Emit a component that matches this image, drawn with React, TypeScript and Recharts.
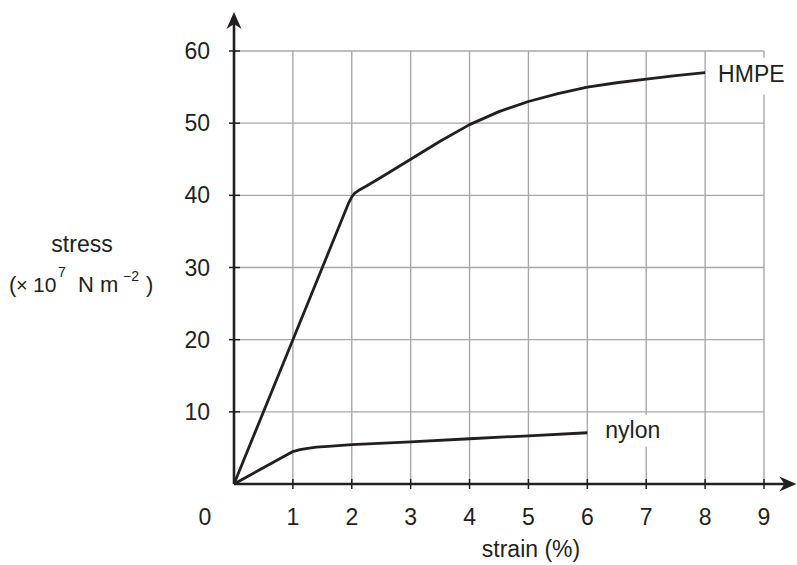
import React from "react";
import { LineChart, Line, XAxis, YAxis, CartesianGrid, ReferenceLine, ReferenceDot } from "recharts";

const xTicks = [0, 1, 2, 3, 4, 5, 6, 7, 8, 9];
const yTicks = [10, 20, 30, 40, 50, 60];

const hmpeStrain = [0, 1, 1.95, 2.0, 2.05, 2.12, 2.25, 2.5, 3, 3.5, 4, 4.5, 5, 5.5, 6, 6.5, 7, 7.5, 8];
const hmpeStress = [0, 20, 39, 39.8, 40.3, 40.7, 41.3, 42.5, 45, 47.5, 49.8, 51.6, 53, 54.1, 55, 55.6, 56.1, 56.6, 57];

const nylonStrain = [0, 1, 1.12, 1.25, 1.4, 1.6, 2, 3, 4, 5, 6];
const nylonStress = [0, 4.5, 4.75, 4.95, 5.1, 5.22, 5.45, 5.85, 6.27, 6.68, 7.1];

const hmpeData = hmpeStrain.map((x, i) => ({ x, y: hmpeStress[i] }));
const nylonData = nylonStrain.map((x, i) => ({ x, y: nylonStress[i] }));

const INK = "#231f20";
const FONT = "'Liberation Sans', Arial, sans-serif";

const XTick = (props: any) => {
  const { x, y, payload } = props;
  const v = payload.value;
  return (
    <g>
      {v !== 0 && <line x1={x} x2={x} y1={y - 5} y2={y + 5} stroke={INK} strokeWidth={1.5} />}
      <text x={v === 0 ? x - 29 : x} y={y + 41} textAnchor="middle" fontFamily={FONT} fontSize={23} fill={INK}>
        {v}
      </text>
    </g>
  );
};

const YTick = (props: any) => {
  const { x, y, payload } = props;
  return (
    <g>
      <line x1={x - 5} x2={x + 6} y1={y} y2={y} stroke={INK} strokeWidth={1.5} />
      <text x={x - 24} y={y + 8} textAnchor="end" fontFamily={FONT} fontSize={23} fill={INK}>
        {payload.value}
      </text>
    </g>
  );
};

const Arrow = (props: any) => {
  const { x1, y1, x2, y2 } = props;
  const dx = x2 - x1;
  const dy = y2 - y1;
  const L = Math.sqrt(dx * dx + dy * dy) || 1;
  const ux = dx / L;
  const uy = dy / L;
  const px = -uy;
  const py = ux;
  const head = 17;
  const half = 7.5;
  const notch = 12;
  const bx = x2 - ux * head;
  const by = y2 - uy * head;
  const nx = x2 - ux * notch;
  const ny = y2 - uy * notch;
  const pts = `${x2},${y2} ${bx + px * half},${by + py * half} ${nx},${ny} ${bx - px * half},${by - py * half}`;
  return (
    <g>
      <line x1={x1} y1={y1} x2={nx} y2={ny} stroke={INK} strokeWidth={2.6} />
      <polygon points={pts} fill={INK} />
    </g>
  );
};

const makeTag = (text: string, dxText: number, dyText: number, rx: number, ry: number, rw: number, rh: number) =>
  (props: any) => {
    const { cx, cy } = props;
    return (
      <g>
        <rect x={cx + rx} y={cy + ry} width={rw} height={rh} fill="#ffffff" />
        <text x={cx + dxText} y={cy + dyText} fontFamily={FONT} fontSize={23} fill={INK}>
          {text}
        </text>
      </g>
    );
  };

const hmpeLast = hmpeData[hmpeData.length - 1];
const nylonLast = nylonData[nylonData.length - 1];

const YTitle = () => (
  <g fontFamily={FONT} fill={INK}>
    <text x={82} y={252} textAnchor="middle" fontSize={23}>stress</text>
    <text x={9} y={292} fontSize={22}>(</text>
    <text x={16} y={292} fontSize={20}>×</text>
    <text x={33} y={292} fontSize={21}>10</text>
    <text x={58} y={277} fontSize={14}>7</text>
    <text x={78} y={292} fontSize={22}>N</text>
    <text x={100} y={292} fontSize={22}>m</text>
    <text x={123} y={281} fontSize={14}>−2</text>
    <text x={146} y={292} fontSize={22}>)</text>
  </g>
);

export default function App() {
  return (
    <div style={{ position: "absolute", left: 0, top: 0, width: 797, height: 565, background: "#fff" }}>
      <LineChart width={797} height={565} margin={{ top: 51, right: 33, bottom: 0, left: 0 }}>
        <CartesianGrid stroke="#a8a8a8" strokeWidth={1.4} />
        <XAxis
          dataKey="x"
          type="number"
          domain={[0, 9]}
          ticks={xTicks}
          height={81}
          axisLine={false}
          tickLine={false}
          tickSize={0}
          tickMargin={0}
          tick={<XTick />}
          interval={0}
          label={{
            content: () => (
              <text x={531} y={557} textAnchor="middle" fontFamily={FONT} fontSize={23} fill={INK}>
                strain (%)
              </text>
            ),
          }}
        />
        <YAxis
          type="number"
          domain={[0, 60]}
          ticks={yTicks}
          width={234}
          axisLine={false}
          tickLine={false}
          tickSize={0}
          tickMargin={0}
          tick={<YTick />}
          interval={0}
          label={{ content: () => <YTitle /> }}
        />
        <Line data={hmpeData} dataKey="y" type="linear" stroke={INK} strokeWidth={2.8} strokeLinejoin="round" dot={false} isAnimationActive={false} />
        <Line data={nylonData} dataKey="y" type="linear" stroke={INK} strokeWidth={2.8} strokeLinejoin="round" dot={false} isAnimationActive={false} />
        <ReferenceLine segment={[{ x: 0, y: 0 }, { x: 9.55, y: 0 }]} ifOverflow="visible" shape={Arrow} />
        <ReferenceLine segment={[{ x: 0, y: 0 }, { x: 0, y: 65.4 }]} ifOverflow="visible" shape={Arrow} />
        <ReferenceDot x={hmpeLast.x} y={hmpeLast.y} ifOverflow="visible" shape={makeTag("HMPE", 13, 9, 7, -15, 80, 37)} />
        <ReferenceDot x={nylonLast.x} y={nylonLast.y} ifOverflow="visible" shape={makeTag("nylon", 18, 5, 13, -18, 70, 32)} />
      </LineChart>
    </div>
  );
}
